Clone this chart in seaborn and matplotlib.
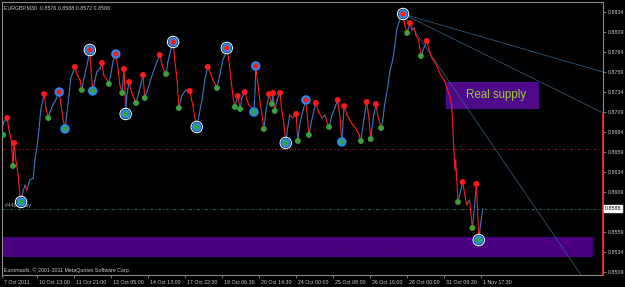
import matplotlib

matplotlib.use("Agg")
import matplotlib.pyplot as plt
import matplotlib.transforms as mtransforms
import pandas as pd
import seaborn as sns

# EURGBP M30 closes (bar index, price)
bars = [0, 3, 9, 12, 16, 19, 21, 24, 28, 31, 33, 36, 40, 43, 48, 54, 57, 61, 64, 67,
        73, 76, 80, 83, 88, 93, 99, 102, 106, 109, 112, 116, 119, 123, 126, 130, 135, 138, 142, 145,
        149, 152, 154, 157, 161, 164, 170, 173, 176, 182, 185, 189, 192, 197, 201, 204, 208, 211, 213, 214,
        216, 220, 223, 228, 232, 237, 240, 244, 247, 253, 258, 263, 268, 273, 277, 280, 284, 287, 291, 296,
        299, 303, 306, 311, 318, 325, 330, 334, 337, 341, 346, 351, 356, 362, 367, 372, 377, 382, 386, 389,
        393, 396, 400, 403, 406, 408, 412, 415, 420, 424, 427, 432, 436, 438, 439, 443, 446, 450, 453, 457,
        462, 465, 467, 469, 472, 476, 481, 484, 488, 491, 495, 498, 503, 509, 512, 515, 521, 526, 529, 531,
        536, 543, 548, 554, 559, 562, 566, 571, 576, 581, 585, 588, 592, 597, 602, 607, 612, 618, 621, 626,
        631, 635, 638, 642, 647, 650, 656, 659, 662, 668, 671, 676, 680, 683, 687, 690, 694, 697, 701, 706,
        709, 713, 716, 721, 725, 730, 735, 739, 744, 749, 754, 759, 765, 770, 775, 778, 780, 782, 784, 785,
        787, 789, 792, 797, 801, 804, 809, 814, 818, 821, 823, 825, 828, 832]
closes = [0.8689, 0.86965, 0.87015, 0.86865, 0.8674, 0.86428, 0.86703, 0.8649, 0.86303, 0.86053,
          0.85965, 0.8609, 0.86178, 0.86115, 0.8624, 0.86265, 0.8649, 0.86678, 0.86865, 0.87115,
          0.87315, 0.8714, 0.87015, 0.8709, 0.87178, 0.8724, 0.8734, 0.87178, 0.8699, 0.86878,
          0.87053, 0.87303, 0.87515, 0.8759, 0.87653, 0.87553, 0.8749, 0.87365, 0.87515, 0.87615,
          0.8774, 0.87865, 0.87615, 0.87353, 0.8749, 0.8759, 0.8764, 0.87703, 0.87553, 0.8749,
          0.8744, 0.8759, 0.87715, 0.87815, 0.87615, 0.87428, 0.87328, 0.87628, 0.87303, 0.87065,
          0.87303, 0.87465, 0.87365, 0.87265, 0.87203, 0.8734, 0.87428, 0.87553, 0.87265, 0.8739,
          0.87515, 0.87615, 0.87715, 0.87803, 0.87678, 0.87615, 0.87565, 0.87715, 0.8784, 0.87965,
          0.8774, 0.8749, 0.8714, 0.8729, 0.87365, 0.87353, 0.87178, 0.87015, 0.86903, 0.87053,
          0.8724, 0.8749, 0.87653, 0.87553, 0.87465, 0.8739, 0.87553, 0.8774, 0.87803, 0.8789,
          0.87715, 0.87515, 0.87265, 0.87153, 0.8724, 0.8729, 0.87128, 0.87265, 0.8734, 0.8724,
          0.87178, 0.8714, 0.8709, 0.87365, 0.87665, 0.87428, 0.8724, 0.87053, 0.86878, 0.87115,
          0.87315, 0.8724, 0.8719, 0.87328, 0.87103, 0.8724, 0.87328, 0.87115, 0.86928, 0.86703,
          0.86928, 0.87053, 0.87015, 0.87065, 0.86728, 0.86928, 0.87115, 0.8724, 0.8699, 0.86803,
          0.8699, 0.87203, 0.8709, 0.87015, 0.87053, 0.86965, 0.86903, 0.87053, 0.8714, 0.8724,
          0.87015, 0.86715, 0.87165, 0.87053, 0.8699, 0.86928, 0.8689, 0.86803, 0.86728, 0.8699,
          0.87215, 0.87015, 0.86753, 0.8699, 0.8719, 0.87053, 0.8689, 0.8699, 0.87178, 0.87428,
          0.8759, 0.8774, 0.87928, 0.88115, 0.88215, 0.88265, 0.88315, 0.88178, 0.88078, 0.88203,
          0.88115, 0.8814, 0.88053, 0.8799, 0.8779, 0.8789, 0.87978, 0.87865, 0.87765, 0.87715,
          0.8764, 0.87553, 0.8749, 0.8739, 0.8729, 0.8719, 0.86928, 0.86615, 0.86365, 0.8649,
          0.8624, 0.85965, 0.86053, 0.86215, 0.86053, 0.85928, 0.8599, 0.8564, 0.85928, 0.8619,
          0.85865, 0.8549, 0.85678, 0.85878]

# swing markers
red_hi_bars = [9, 21, 73, 126, 173, 211, 220, 244, 273, 325, 356, 408, 420, 462, 469, 481,
               509, 543, 581, 592, 631, 647, 706, 735, 797, 821]
red_hi_prices = [0.87015, 0.86703, 0.87315, 0.87653, 0.87703, 0.87628, 0.87465, 0.87553, 0.87803,
                 0.87353, 0.87653, 0.8729, 0.8734, 0.87315, 0.87328, 0.87328, 0.87065, 0.87203,
                 0.8724, 0.87165, 0.87215, 0.8719, 0.88203, 0.87978, 0.86215, 0.8619]
green_lo_bars = [2, 19, 80, 138, 185, 208, 232, 247, 284, 306, 372, 403, 412, 453, 467, 472,
                 512, 531, 566, 621, 638, 656, 701, 725, 789, 814]
green_lo_prices = [0.86803, 0.86415, 0.87015, 0.87365, 0.8744, 0.87328, 0.87203, 0.87265, 0.87565,
                   0.8714, 0.8739, 0.87153, 0.87128, 0.86878, 0.8719, 0.87103, 0.86728, 0.86803,
                   0.86903, 0.86728, 0.86753, 0.8689, 0.88078, 0.8779, 0.85965, 0.8564]
blue_hi_bars = [99, 197, 439, 526]
blue_hi_prices = [0.8734, 0.87815, 0.87665, 0.8724]
blue_lo_bars = [109, 157, 436, 588]
blue_lo_prices = [0.86878, 0.87353, 0.8709, 0.86715]
ring_hi_bars = [152, 296, 389, 694]
ring_hi_prices = [0.87865, 0.87965, 0.8789, 0.88315]
ring_lo_bars = [33, 214, 337, 491, 825]
ring_lo_prices = [0.85965, 0.87065, 0.86903, 0.86703, 0.8549]

# fan lines from the top
fan_start = (694, 0.88315)
fan_end_bars = [1040, 1040, 1008]
fan_end_prices = [0.8759, 0.87078, 0.8499]

# zones and levels
supply_zone = (768, 929, 0.87128, 0.87465)
demand_zone = (0, 1022, 0.85278, 0.85528)
red_level = 0.86628
buy_level = 0.85878
last_price = 0.8588
edge_mark_top = 0.8707

x_range = (0, 1040)
y_range = (0.850525, 0.88465)
price_ticks = [0.8834, 0.8809, 0.8784, 0.8759, 0.8734, 0.8709, 0.8684, 0.8659, 0.8634,
               0.8609, 0.8559, 0.8534, 0.8509]
time_ticks = [0, 61, 125, 189, 253, 317, 381, 445, 509, 573, 637, 701, 765, 829]
time_labels = ["7 Oct 2011", "10 Oct 13:00", "11 Oct 21:00", "13 Oct 05:00", "14 Oct 13:00",
               "17 Oct 22:30", "19 Oct 06:30", "20 Oct 14:30", "24 Oct 00:00", "25 Oct 08:00",
               "26 Oct 16:00", "28 Oct 00:00", "31 Oct 09:30", "1 Nov 17:30"]

RED = "#ff1a1a"
GREEN = "#3c9f3c"
BLUE = "#1e8fff"
UP = "#3a78c0"
FRAME = "#8a8a8a"
TXT = "#cfcfcf"
SMALL = 3.8


def setup_style() -> None:
    sns.set_theme(style="dark")
    plt.rcParams["font.family"] = ["Liberation Sans", "DejaVu Sans"]
    plt.rcParams["figure.facecolor"] = "black"
    plt.rcParams["axes.facecolor"] = "black"
    plt.rcParams["savefig.facecolor"] = "black"


def draw_price(ax) -> None:
    rows = []
    for i in range(len(bars) - 1):
        d = "up" if closes[i + 1] > closes[i] else "down"
        rows.append({"seg": i, "bar": bars[i], "price": closes[i], "dir": d})
        rows.append({"seg": i, "bar": bars[i + 1], "price": closes[i + 1], "dir": d})
    seg_df = pd.DataFrame(rows)
    sns.lineplot(data=seg_df, x="bar", y="price", hue="dir", units="seg", estimator=None,
                 sort=False, palette={"up": UP, "down": RED}, linewidth=0.8, legend=False, ax=ax)


def dots(ax, xs, ys, layers) -> None:
    df = pd.DataFrame({"bar": xs, "price": ys})
    for size, color in layers:
        sns.scatterplot(data=df, x="bar", y="price", s=size, color=color, edgecolor="none",
                        linewidth=0, ax=ax, zorder=5)


def main() -> None:
    setup_style()
    fig = plt.figure(figsize=(6.25, 2.87), dpi=100)
    ax = fig.add_axes([2 / 625, 12 / 287, 601 / 625, 273 / 287])

    # zones
    x0, x1, lo, hi = demand_zone
    ax.fill_between([x0, x1], lo, hi, color="#4b0082", lw=0, zorder=1)
    ax.hlines((lo + hi) / 2 - 0.0002, x0, x1, colors="#22003d", linestyles=(0, (1, 4)), lw=0.6, zorder=1)
    x0, x1, lo, hi = supply_zone
    ax.fill_between([x0, x1], lo, hi, color="#4f0a8c", lw=0, zorder=1)
    ax.text((x0 + x1) / 2 + 7, (lo + hi) / 2, "Real supply", color="#9acd32", fontsize=8.3,
            ha="center", va="center", zorder=6)

    # levels
    ax.axhline(red_level, color="#7a1a1a", lw=0.7, dashes=(3, 2, 1, 2), zorder=2)
    ax.axhline(buy_level, color="#2a6e58", lw=0.7, dashes=(3, 2, 1, 2), zorder=2)
    ax.text(5, buy_level + 0.00012, "#4464  buy", color="#a0a0a0", fontsize=SMALL, va="bottom", zorder=2)

    # fan lines
    for xe, ye in zip(fan_end_bars, fan_end_prices):
        ax.plot([fan_start[0], xe], [fan_start[1], ye], color="#335f82", lw=0.55, zorder=2)

    draw_price(ax)

    dots(ax, red_hi_bars, red_hi_prices, [(18, RED)])
    dots(ax, green_lo_bars, green_lo_prices, [(18, GREEN)])
    dots(ax, blue_hi_bars, blue_hi_prices, [(46, BLUE), (16, RED)])
    dots(ax, blue_lo_bars, blue_lo_prices, [(46, BLUE), (16, GREEN)])
    dots(ax, ring_hi_bars, ring_hi_prices, [(80, "white"), (56, "black"), (46, BLUE), (16, RED)])
    dots(ax, ring_lo_bars, ring_lo_prices, [(80, "white"), (56, "black"), (46, BLUE), (16, GREEN)])

    ax.set_xlim(*x_range)
    ax.set_ylim(*y_range)
    ax.set_xlabel("")
    ax.set_ylabel("")
    ax.grid(False)

    for side in ["left", "top", "bottom", "right"]:
        ax.spines[side].set_visible(True)
        ax.spines[side].set_color(FRAME)
        ax.spines[side].set_linewidth(0.8)
    ax.plot([1, 1], [0, (edge_mark_top - y_range[0]) / (y_range[1] - y_range[0])], color="#ff2a2a",
            lw=1.2, transform=ax.transAxes, clip_on=False, zorder=7)

    ax.yaxis.tick_right()
    ax.set_yticks(price_ticks)
    ax.set_yticklabels([f"{p:.4f}" for p in price_ticks])
    ax.tick_params(axis="y", direction="out", length=2, width=0.6, color=FRAME, pad=1.5,
                   labelsize=SMALL, labelcolor=TXT, right=True, left=False)
    ax.set_xticks(time_ticks)
    ax.set_xticklabels(time_labels, ha="left")
    ax.tick_params(axis="x", direction="out", length=2.5, width=0.6, color=FRAME, pad=0.8,
                   labelsize=SMALL, labelcolor=TXT, bottom=True)
    shift = mtransforms.ScaledTranslation(1.5 / 100, 0, fig.dpi_scale_trans)
    for lbl in ax.get_xticklabels():
        lbl.set_transform(lbl.get_transform() + shift)

    ax.text(1.003, last_price, f"{last_price:.4f}", transform=ax.get_yaxis_transform(),
            fontsize=SMALL, color="black", va="center", ha="left", zorder=8, clip_on=False,
            bbox={"facecolor": "white", "edgecolor": "white", "pad": 0.6})

    ax.text(0.004, 0.988, "EURGBP,M30  0.8576 0.8588 0.8572 0.8588", transform=ax.transAxes,
            fontsize=SMALL, color=TXT, ha="left", va="top")
    ax.text(0.003, 0.006, "Euromaxfx, \u00a9 2001-2011 MetaQuotes Software Corp.",
            transform=ax.transAxes, fontsize=SMALL, color=TXT, ha="left", va="bottom")

    fig.savefig("out.png", dpi=100)
    plt.close(fig)


if __name__ == "__main__":
    main()
